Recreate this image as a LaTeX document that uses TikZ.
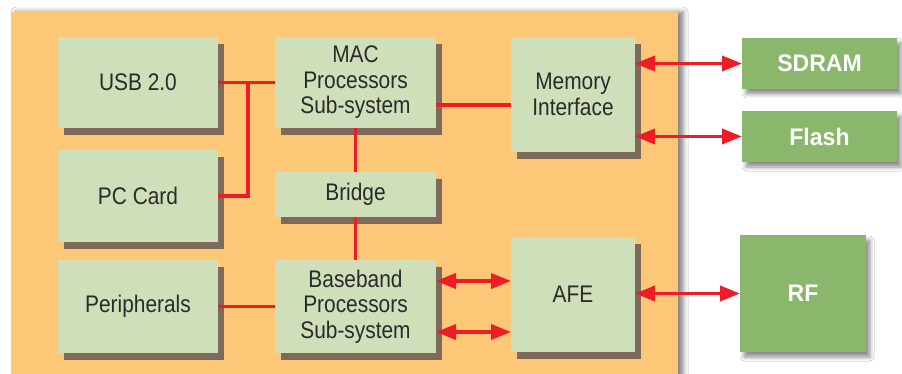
\documentclass[tikz,border=0pt]{standalone}
\usepackage{fontspec}
\setmainfont{Liberation Sans}[FakeStretch=0.87]
\newfontfamily\extfont{Liberation Sans}[FakeStretch=0.96]
\usetikzlibrary{arrows.meta,shadows,shadows.blur}
\definecolor{bgorange}{HTML}{FCC777}
\definecolor{lgreen}{HTML}{CEDFBA}
\definecolor{dgreen}{HTML}{8AB76B}
\definecolor{shbrown}{HTML}{7E6A5A}
\definecolor{linered}{HTML}{EE1C25}
\definecolor{txt}{HTML}{2A2A2A}
\tikzset{
  lbox/.style={rectangle, fill=lgreen, inner sep=0pt, outer sep=0pt, align=center,
    text=txt, font=\fontsize{24}{25.5}\selectfont,
    general shadow={fill=shbrown, shadow xshift=6pt, shadow yshift=-7pt}},
  gbox/.style={rectangle, fill=dgreen, inner sep=0pt, outer sep=0pt, align=center,
    text=white, font=\extfont\bfseries\fontsize{24}{25.5}\selectfont,
    blur shadow={shadow xshift=4pt, shadow yshift=-5pt, shadow blur radius=4pt, shadow opacity=45}},
  link/.style={draw=linered, line width=3.5pt},
  dlink/.style={link, {Triangle[length=20pt,width=15pt]}-{Triangle[length=20pt,width=15pt]}}
}
\begin{document}
\begin{tikzpicture}[x=1pt,y=-1pt]
\useasboundingbox (0,0) rectangle (902,374);
\fill[white] (0,0) rectangle (902,374);
% background panel
\fill[bgorange, blur shadow={shadow xshift=5pt, shadow yshift=0pt, shadow blur radius=5pt, shadow opacity=50}] (11,12) rectangle (678,390);

% inner blocks
\node[lbox, minimum width=160pt, minimum height=91pt] (usb) at (138,82.5) {USB 2.0};
\node[lbox, minimum width=160pt, minimum height=92pt] (pc) at (138,196) {PC Card};
\node[lbox, minimum width=160pt, minimum height=93pt] (per) at (138,306.5) {Peripherals};
\node[lbox, minimum width=161pt, minimum height=91pt] (mac) at (355.5,82.5) {MAC\\Processors\\Sub-system};
\node[lbox, minimum width=161pt, minimum height=45pt] (bridge) at (355.5,194.5) {Bridge};
\node[lbox, minimum width=161pt, minimum height=93pt] (base) at (355.5,306.5) {Baseband\\Processors\\Sub-system};
\node[lbox, minimum width=124pt, minimum height=115pt] (mem) at (573,94.5) {Memory\\Interface};
\node[lbox, minimum width=124pt, minimum height=115pt] (afe) at (573,294.5) {AFE};

% external blocks
\node[gbox, minimum width=155pt, minimum height=51pt] (sdram) at (819.5,63.5) {SDRAM};
\node[gbox, minimum width=155pt, minimum height=51pt] (flash) at (819.5,136.5) {Flash};
\node[gbox, minimum width=126pt, minimum height=117pt] (rf) at (803,293.5) {RF};

% connectors
\coordinate (j) at (248,82.5);
\draw[link] (usb.east) -- (mac.west);
\draw[link] (j) |- (pc.east);
\draw[link] (mac.south) -- (bridge.north);
\draw[link] (bridge.south) -- (base.north);
\draw[link] (per.east) -- (base.west);
\draw[link] ([yshift=-10.5pt]mem.west) -- ([yshift=-10.5pt]mem.west -| mac.east);
\draw[dlink] (sdram.west -| mem.east) -- (sdram.west);
\draw[dlink] (flash.west -| mem.east) -- (flash.west);
\draw[dlink] ([yshift=25.5pt]base.east) -- ([yshift=25.5pt]base.east -| afe.west);
\draw[dlink] ([yshift=-25.5pt]base.east) -- ([yshift=-25.5pt]base.east -| afe.west);
\draw[dlink] (rf.west -| afe.east) -- (rf.west);
\end{tikzpicture}
\end{document}
